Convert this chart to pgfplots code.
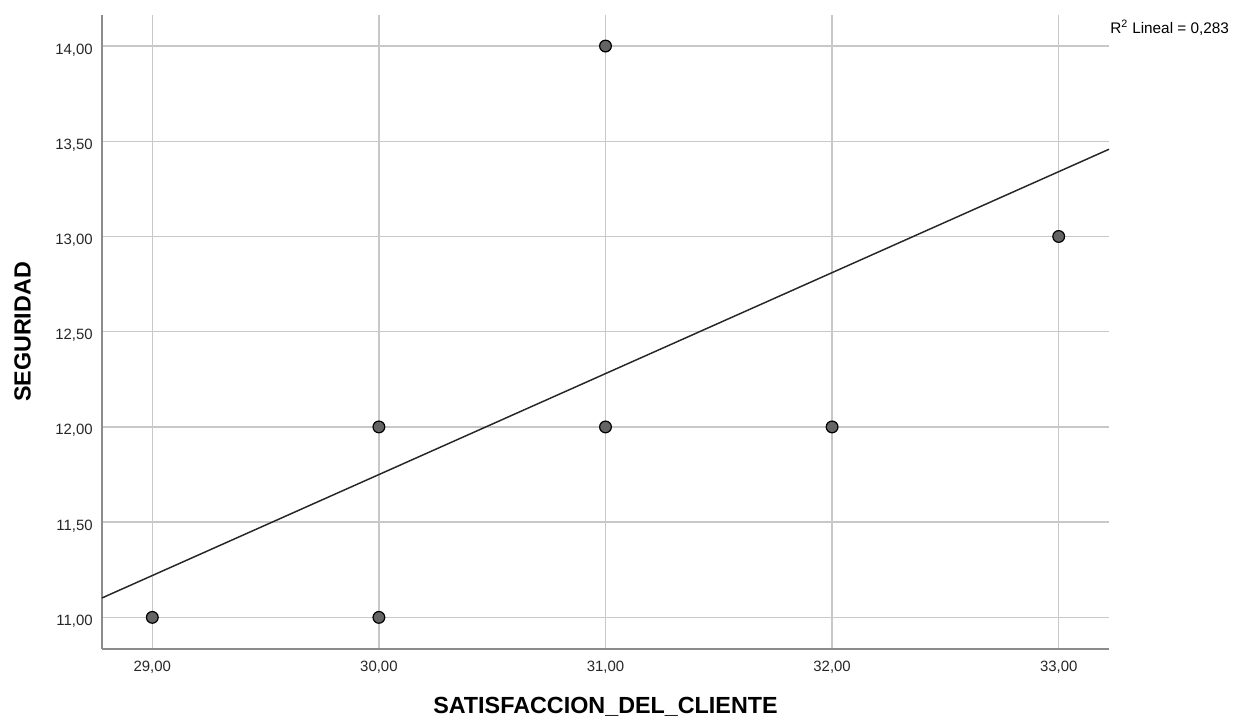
\documentclass[border=0pt]{standalone}
\usepackage{fontspec}
\setmainfont{Liberation Sans}
\usepackage{pgfplots}
\pgfplotsset{compat=1.18}
\definecolor{gridc}{HTML}{C8C8C8}
\definecolor{axc}{HTML}{8C8C8C}
\definecolor{ptc}{HTML}{646464}
\begin{document}
\begin{tikzpicture}
\path[use as bounding box] (-76.5pt,-53.25pt) rectangle (848.25pt,486.75pt);
\begin{axis}[
  scale only axis, width=755.25pt, height=475.5pt,
  xmin=28.778, xmax=33.222, ymin=10.834, ymax=14.163,
  axis x line=bottom, axis y line=left,
  axis line style={-, draw=axc, line width=1.2pt},
  xtick={29,30,31,32,33},
  xticklabels={{29,00},{30,00},{31,00},{32,00},{33,00}},
  ytick={11,11.5,12,12.5,13,13.5,14},
  yticklabels={{11,00},{11,50},{12,00},{12,50},{13,00},{13,50},{14,00}},
  grid=major, grid style={draw=gridc, line width=1pt},
  major tick length=0pt,
  tick label style={font=\fontsize{11.2}{13}\selectfont, text=black!85},
  xticklabel style={anchor=base, inner sep=0pt, yshift=-17.25pt},
  yticklabel style={anchor=base east, inner sep=0pt, xshift=-6.75pt, yshift=-6pt},
  xlabel={SATISFACCION\_DEL\_CLIENTE},
  xlabel style={at={(axis description cs:0.5,-0.101)}, anchor=base, font=\bfseries\fontsize{17.5}{20}\selectfont},
  ylabel={SEGURIDAD},
  ylabel style={at={(axis description cs:-0.071,0.5)}, anchor=base, font=\bfseries\fontsize{17.5}{20}\selectfont},
  clip=false,
]
\addplot[no marks, draw=black!85, line width=1.1pt] coordinates {(28.778,11.102) (33.222,13.458)};
\addplot[only marks, mark=*, mark size=4.4pt, mark options={fill=ptc, draw=black, line width=0.9pt}] coordinates {
  (29,11) (30,11) (30,12) (31,12) (31,14) (32,12) (33,13)
};
\node[anchor=west, inner sep=0pt, font=\fontsize{11.5}{13}\selectfont] at (axis description cs:1.001,0.9795) {R\textsuperscript{2} Lineal = 0,283};
\end{axis}
\end{tikzpicture}
\end{document}
